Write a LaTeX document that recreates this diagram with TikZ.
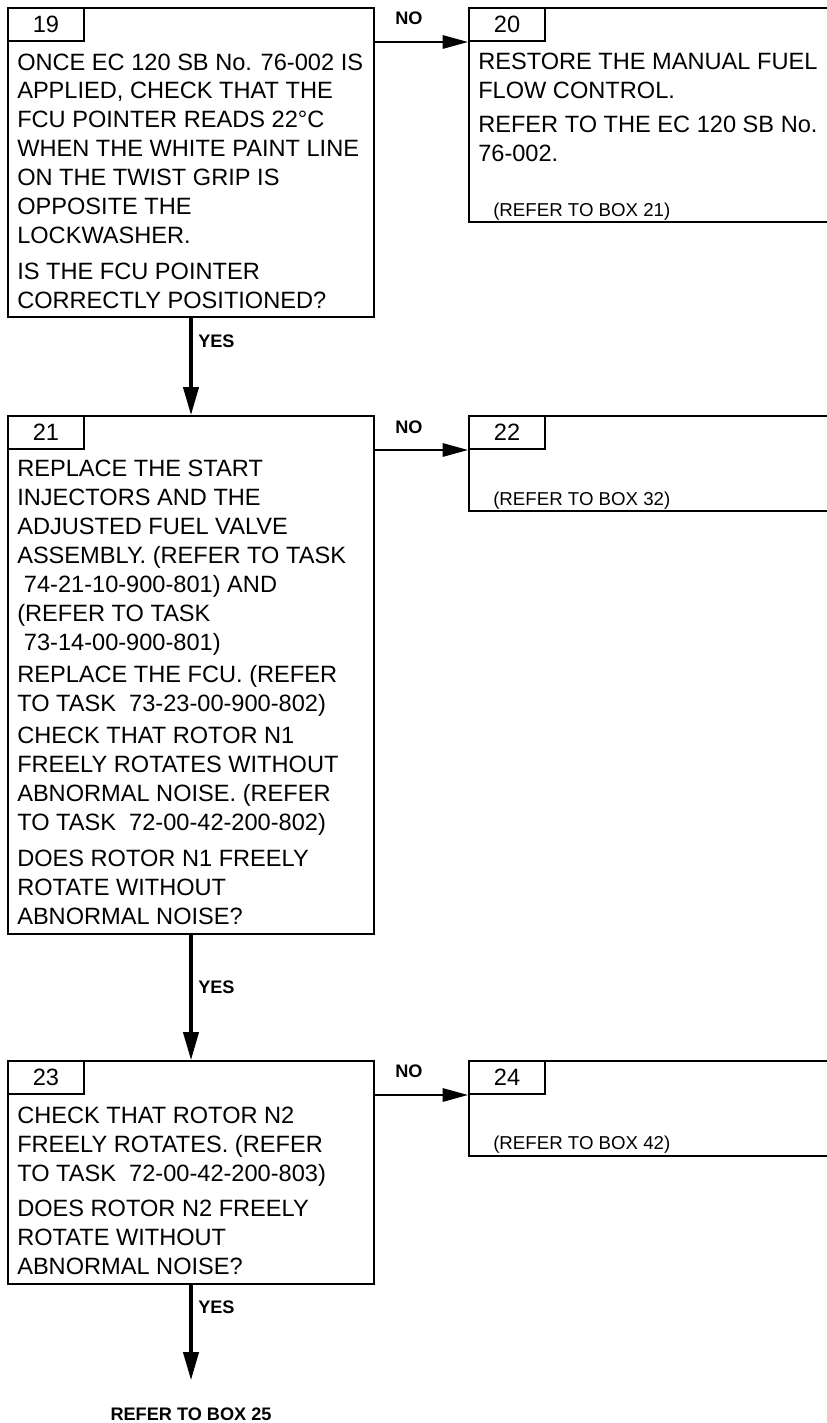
\documentclass[tikz,border=0pt]{standalone}
\usepackage{fontspec}
\setmainfont{Liberation Sans}
\usetikzlibrary{positioning, arrows.meta}

\begin{document}
\begin{tikzpicture}[
  x=0.75pt, y=-0.75pt,
  box/.style={draw, line width=1.5pt, anchor=north west, inner sep=0pt},
  numtab/.style={box, minimum width=57pt, minimum height=24.75pt, font=\fontsize{17.7}{21.7}\selectfont},
  txt/.style={anchor=north west, inner sep=0pt, align=left, font=\fontsize{17.7}{21.7}\selectfont},
  note/.style={anchor=base west, inner sep=0pt, font=\fontsize{14}{16}\selectfont},
  lbl/.style={anchor=base west, inner sep=0pt, font=\fontsize{13.6}{16}\selectfont\bfseries},
  yesarr/.style={line width=2.4pt, -{Triangle[length=21pt, width=11.5pt]}},
  noarr/.style={line width=1.5pt, -{Triangle[length=19pt, width=10pt]}},
]
\clip (0,0) rectangle (827,1423);

% --- left column: questions ---
\node[box, minimum width=274.5pt, minimum height=231.75pt] (b19) at (7,7) {};
\node[numtab] (n19) at (7,7) {19};
\node[txt] (t19) at (17,53.3) {ONCE EC 120 SB No. 76-002 IS\\
  APPLIED, CHECK THAT THE\\
  FCU POINTER READS 22°C\\
  WHEN THE WHITE PAINT LINE\\
  ON THE TWIST GRIP IS\\
  OPPOSITE THE\\
  LOCKWASHER.\\[5pt]
  IS THE FCU POINTER\\
  CORRECTLY POSITIONED?};

\node[box, minimum width=274.5pt, minimum height=388.5pt] (b21) at (7,415) {};
\node[numtab] (n21) at (7,415) {21};
\node[txt] (t21) at (17,460) {REPLACE THE START\\
  INJECTORS AND THE\\
  ADJUSTED FUEL VALVE\\
  ASSEMBLY. (REFER TO TASK\\
  \hspace*{5pt}74-21-10-900-801) AND\\
  (REFER TO TASK\\
  \hspace*{5pt}73-14-00-900-801)\\[2.5pt]
  REPLACE THE FCU. (REFER\\
  TO TASK\ \ 73-23-00-900-802)\\[2.5pt]
  CHECK THAT ROTOR N1\\
  FREELY ROTATES WITHOUT\\
  ABNORMAL NOISE. (REFER\\
  TO TASK\ \ 72-00-42-200-802)\\[5pt]
  DOES ROTOR N1 FREELY\\
  ROTATE WITHOUT\\
  ABNORMAL NOISE?};

\node[box, minimum width=274.5pt, minimum height=167.25pt] (b23) at (7,1060) {};
\node[numtab] (n23) at (7,1060) {23};
\node[txt] (t23) at (17,1107) {CHECK THAT ROTOR N2\\
  FREELY ROTATES. (REFER\\
  TO TASK\ \ 72-00-42-200-803)\\[4.5pt]
  DOES ROTOR N2 FREELY\\
  ROTATE WITHOUT\\
  ABNORMAL NOISE?};

% --- right column: NO branches (run off the page edge) ---
\node[box, minimum width=324pt, minimum height=160.5pt] (b20) at (468,7) {};
\node[numtab] (n20) at (468,7) {20};
\node[txt] (t20) at (478,53) {RESTORE THE MANUAL FUEL\\
  FLOW CONTROL.\\[4pt]
  REFER TO THE EC 120 SB No.\\
  76-002.};
\node[note] (r20) at (493,216.5) {(REFER TO BOX 21)};

\node[box, minimum width=324pt, minimum height=71.25pt] (b22) at (468,415) {};
\node[numtab] (n22) at (468,415) {22};
\node[note] (r22) at (493,505) {(REFER TO BOX 32)};

\node[box, minimum width=324pt, minimum height=71.25pt] (b24) at (468,1060) {};
\node[numtab] (n24) at (468,1060) {24};
\node[note] (r24) at (493,1149) {(REFER TO BOX 42)};

% --- connectors ---
\draw[yesarr] (b19.south) -- (b21.north);
\draw[yesarr] (b21.south) -- (b23.north);
\coordinate (end25) at (b23.south |- 0,1380);
\draw[yesarr] (b23.south) -- (end25);
\node[lbl, anchor=base] (ref25) at (end25 |- 0,1420) {REFER TO BOX 25};

\draw[noarr] (b19.east |- n20.south) -- (n20.south west);
\draw[noarr] (b21.east |- n22.south) -- (n22.south west);
\draw[noarr] (b23.east |- n24.south) -- (n24.south west);

% labels
\node[lbl] (y19) at (198,347) {YES};
\node[lbl] (y21) at (198,993) {YES};
\node[lbl] (y23) at (198,1313) {YES};
\node[lbl] (no19) at (395,25) {NO};
\node[lbl] (no21) at (395,433) {NO};
\node[lbl] (no23) at (395,1077) {NO};

\end{tikzpicture}
\end{document}
